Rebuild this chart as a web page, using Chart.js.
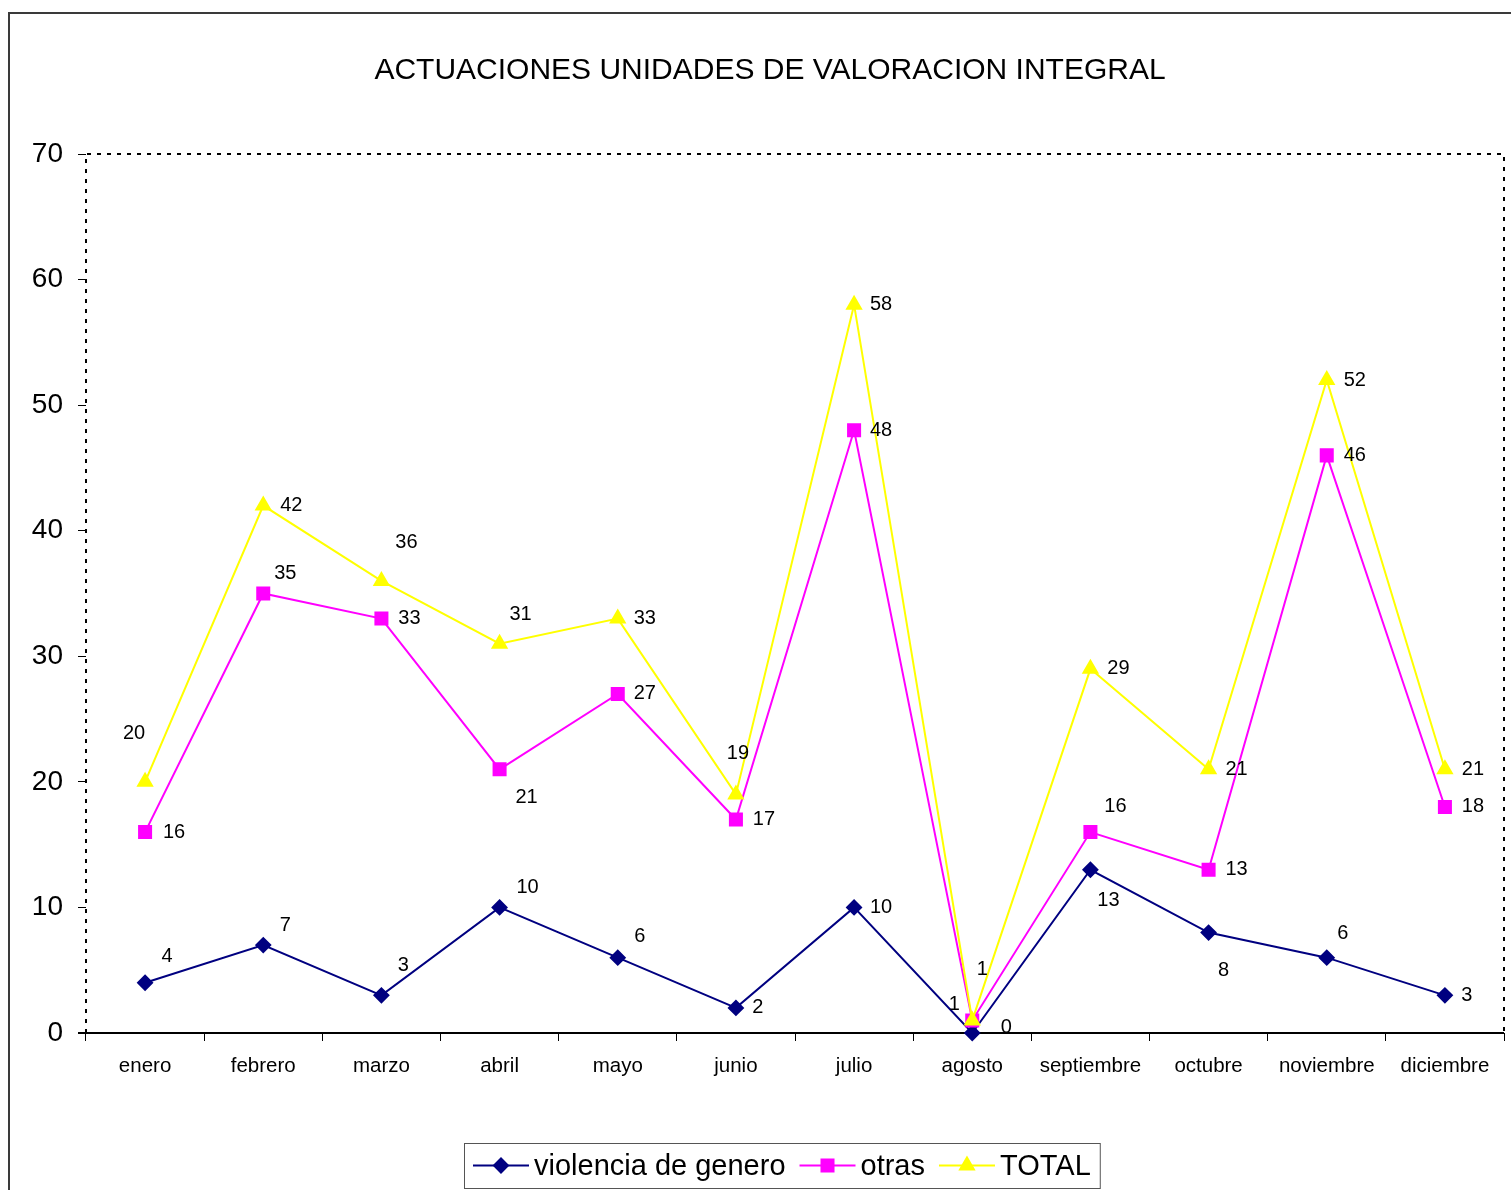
<!DOCTYPE html>
<html>
<head>
<meta charset="utf-8">
<script src="https://cdn.jsdelivr.net/npm/chart.js@4.4.1/dist/chart.umd.min.js"></script>
<style>
html,body{margin:0;padding:0;background:#fff;}
canvas{display:block;}
</style>
</head>
<body>
<canvas id="c" width="1511" height="1190"></canvas>
<script>
// ---- data ----
const chartTitle = 'ACTUACIONES UNIDADES DE VALORACION INTEGRAL';
const months = ['enero','febrero','marzo','abril','mayo','junio','julio','agosto','septiembre','octubre','noviembre','diciembre'];
const violencia = [4, 7, 3, 10, 6, 2, 10, 0, 13, 8, 6, 3];
const otras     = [16, 35, 33, 21, 27, 17, 48, 1, 16, 13, 46, 18];
const total     = [20, 42, 36, 31, 33, 19, 58, 1, 29, 21, 52, 21];
const seriesNames = ['violencia de genero', 'otras', 'TOTAL'];
const yMin = 0, yMax = 70, yStep = 10;

// label offsets relative to each point (pixels)
const violenciaLabelOffsets = [[22,-26],[22,-20],[22,-30],[28,-20],[22,-21],[22,0],[27,0],[34,-6],[18,31],[15,38],[16,-24],[22,0]];
const otrasLabelOffsets     = [[29,0],[22,-20],[28,0],[27,28],[27,0],[28,0],[27,0],[-18,-16],[25,-26],[28,0],[28,0],[28,0]];
const totalLabelOffsets     = [[-11,-48],[28,0],[25,-38],[21,-29],[27,0],[2,-41],[27,0],[10,-51],[28,0],[28,0],[28,0],[28,0]];

const FONT = '"Liberation Sans", Arial, Helvetica, sans-serif';

const framePlugin = {
  id: 'frame',
  beforeDraw(chart) {
    const ctx = chart.ctx;
    ctx.save();
    ctx.fillStyle = '#fff';
    ctx.fillRect(0, 0, chart.width, chart.height);
    ctx.strokeStyle = '#3a3a3a';
    ctx.lineWidth = 2;
    ctx.strokeRect(9, 13, 3000, 3000);
    ctx.restore();
  },
  beforeDatasetsDraw(chart) {
    const {ctx, chartArea: a} = chart;
    ctx.save();
    ctx.strokeStyle = '#000';
    ctx.lineWidth = 2;
    ctx.setLineDash([4, 6]);
    ctx.beginPath();
    ctx.moveTo(a.left, a.bottom);
    ctx.lineTo(a.left, a.top);
    ctx.lineTo(a.right, a.top);
    ctx.lineTo(a.right, a.bottom);
    ctx.stroke();
    ctx.setLineDash([]);
    ctx.beginPath();
    ctx.moveTo(a.left - 8, a.bottom);
    ctx.lineTo(a.right, a.bottom);
    ctx.stroke();
    ctx.restore();
  }
};

const titlePlugin = {
  id: 'customTitle',
  afterDraw(chart) {
    const ctx = chart.ctx;
    ctx.save();
    ctx.fillStyle = '#000';
    ctx.font = '30px ' + FONT;
    ctx.textAlign = 'center';
    ctx.textBaseline = 'middle';
    ctx.fillText(chartTitle, 770, 71);
    ctx.restore();
  }
};

const labelsPlugin = {
  id: 'pointLabels',
  afterDatasetsDraw(chart) {
    const ctx = chart.ctx;
    ctx.save();
    ctx.fillStyle = '#000';
    ctx.font = '20px ' + FONT;
    ctx.textAlign = 'center';
    ctx.textBaseline = 'middle';
    chart.data.datasets.forEach((ds, i) => {
      const meta = chart.getDatasetMeta(i);
      meta.data.forEach((pt, j) => {
        const off = ds.labelOffsets[j];
        ctx.fillText(String(ds.data[j]), pt.x + off[0], pt.y + off[1]);
      });
    });
    ctx.restore();
  }
};

const legendPlugin = {
  id: 'boxLegend',
  afterDraw(chart) {
    const ctx = chart.ctx;
    ctx.save();
    ctx.font = '29px ' + FONT;
    const symW = 56, symGap = 5, itemGap = 14, padX = 9;
    const widths = chart.data.datasets.map(ds => ctx.measureText(ds.label).width);
    let totalW = padX * 2;
    widths.forEach((w, i) => { totalW += symW + symGap + w + (i < widths.length - 1 ? itemGap : 0); });
    const cx = 782, top = 1143, h = 45;
    const left = Math.round(cx - totalW / 2);
    ctx.strokeStyle = '#555';
    ctx.lineWidth = 1;
    ctx.strokeRect(left + 0.5, top + 0.5, totalW, h);
    let x = left + padX;
    const cy = top + h / 2;
    chart.data.datasets.forEach((ds, i) => {
      ctx.strokeStyle = ds.borderColor;
      ctx.lineWidth = 2;
      ctx.beginPath();
      ctx.moveTo(x, cy);
      ctx.lineTo(x + symW, cy);
      ctx.stroke();
      ctx.fillStyle = ds.pointBackgroundColor;
      ctx.strokeStyle = ds.pointBorderColor;
      Chart.helpers.drawPoint(ctx, {pointStyle: ds.pointStyle, radius: ds.pointRadius, rotation: 0, borderWidth: 1}, x + symW / 2, cy);
      x += symW + symGap;
      ctx.fillStyle = '#000';
      ctx.textAlign = 'left';
      ctx.textBaseline = 'middle';
      ctx.fillText(ds.label, x, cy + 1);
      x += widths[i] + itemGap;
    });
    ctx.restore();
  }
};

const yTickValues = [];
for (let v = yMin; v <= yMax; v += yStep) yTickValues.push(v);

new Chart(document.getElementById('c'), {
  type: 'line',
  data: {
    labels: months,
    datasets: [
      {
        label: seriesNames[0], data: violencia, labelOffsets: violenciaLabelOffsets,
        borderColor: '#000080', backgroundColor: '#000080',
        pointBackgroundColor: '#000080', pointBorderColor: '#000080',
        pointStyle: 'rectRot', pointRadius: 7, borderWidth: 2, order: 2, clip: false, tension: 0
      },
      {
        label: seriesNames[1], data: otras, labelOffsets: otrasLabelOffsets,
        borderColor: '#FF00FF', backgroundColor: '#FF00FF',
        pointBackgroundColor: '#FF00FF', pointBorderColor: '#FF00FF',
        pointStyle: 'rect', pointRadius: 8.5, borderWidth: 2, order: 1, clip: false, tension: 0
      },
      {
        label: seriesNames[2], data: total, labelOffsets: totalLabelOffsets,
        borderColor: '#FFFF00', backgroundColor: '#FFFF00',
        pointBackgroundColor: '#FFFF00', pointBorderColor: '#FFFF00',
        pointStyle: 'triangle', pointRadius: 8, borderWidth: 2, order: 0, clip: false, tension: 0
      }
    ]
  },
  options: {
    responsive: false,
    animation: false,
    devicePixelRatio: 1,
    layout: { autoPadding: false, padding: { top: 154, left: 0, right: 7, bottom: 97 } },
    plugins: {
      legend: { display: false },
      title: { display: false },
      tooltip: { enabled: false }
    },
    elements: { point: { hoverRadius: 8 } },
    scales: {
      x: {
        offset: true,
        afterFit(scale) { scale.height = 60; scale.paddingLeft = 0; scale.paddingRight = 0; },
        grid: { offset: true, drawOnChartArea: false, drawTicks: true, tickLength: 8, color: '#000', lineWidth: 1 },
        border: { display: false },
        ticks: { color: '#000', font: { family: FONT, size: 20.5 }, padding: 13, maxRotation: 0, autoSkip: false }
      },
      y: {
        min: yMin, max: yMax,
        afterFit(scale) { scale.width = 86; },
        afterBuildTicks(scale) { scale.ticks = yTickValues.map(v => ({ value: v })); },
        grid: { drawOnChartArea: false, drawTicks: true, tickLength: 8, color: '#000', lineWidth: 1 },
        border: { display: false },
        ticks: { color: '#000', font: { family: FONT, size: 28 }, padding: 15 }
      }
    }
  },
  plugins: [framePlugin, labelsPlugin, titlePlugin, legendPlugin]
});
</script>
</body>
</html>
